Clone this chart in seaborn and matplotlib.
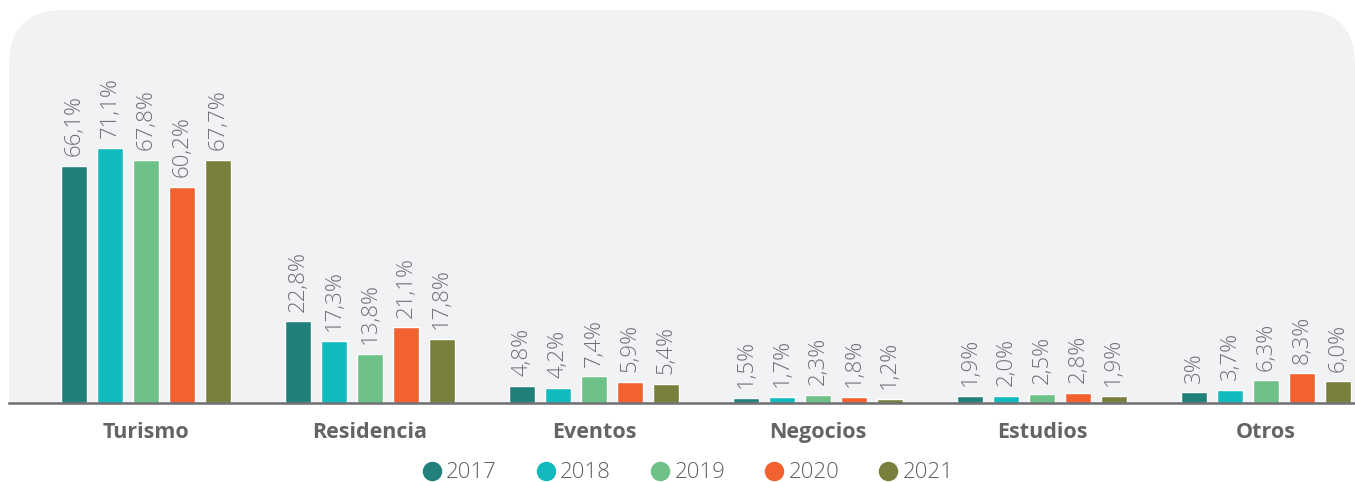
import numpy as np
import pandas as pd
import matplotlib
matplotlib.use("Agg")
import matplotlib.pyplot as plt
import seaborn as sns
from matplotlib.patches import FancyBboxPatch, Rectangle
from matplotlib.lines import Line2D

# datos
categorias = ["Turismo", "Residencia", "Eventos", "Negocios", "Estudios", "Otros"]
anios = ["2017", "2018", "2019", "2020", "2021"]
v2017 = [66.1, 22.8, 4.8, 1.5, 1.9, 3.0]
v2018 = [71.1, 17.3, 4.2, 1.7, 2.0, 3.7]
v2019 = [67.8, 13.8, 7.4, 2.3, 2.5, 6.3]
v2020 = [60.2, 21.1, 5.9, 1.8, 2.8, 8.3]
v2021 = [67.7, 17.8, 5.4, 1.2, 1.9, 6.0]
colores = ["#22807A", "#12BABE", "#6EC288", "#F26130", "#7A7F3E"]
# etiquetas que en el original no llevan decimal
etiquetas_especiales = {("Otros", "2017"): "3%"}

series = [v2017, v2018, v2019, v2020, v2021]
df = pd.DataFrame(
    [(c, a, s[i]) for a, s in zip(anios, series) for i, c in enumerate(categorias)],
    columns=["categoria", "anio", "valor"],
)

sns.set_theme(style="white")
plt.rcParams["font.family"] = ["Open Sans", "DejaVu Sans"]

W, H = 1355, 482
fig = plt.figure(figsize=(W / 100, H / 100), dpi=100)

# panel gris de fondo con esquinas redondeadas (en pulgadas)
px0, py_top, py_axis = 9, 10, 403
panel = FancyBboxPatch(
    (px0 / 100, (H - py_axis - 80) / 100),
    (W - px0) / 100, (py_axis - py_top + 80) / 100,
    boxstyle="round,pad=0,rounding_size=0.55",
    transform=fig.dpi_scale_trans, facecolor="#F1F2F4", edgecolor="none",
    zorder=0,
)
fig.patches.append(panel)
# debajo del eje el fondo es blanco
fig.patches.append(Rectangle((0, 0), 1, (H - py_axis) / H,
                             transform=fig.transFigure, facecolor="white",
                             edgecolor="none", zorder=0.5))

ax = fig.add_axes([px0 / W, (H - py_axis) / H, (W - px0) / W, (py_axis - py_top) / H])
ax.set_zorder(2)
ax.set_facecolor("none")

sns.barplot(data=df, x="categoria", y="valor", hue="anio", order=categorias,
            hue_order=anios, palette=colores, errorbar=None, gap=0.28,
            legend=False, ax=ax, saturation=1)

px_por_pct = 255 / 71.1
ax.set_ylim(0, (py_axis - py_top) / px_por_pct)
g0 = 146
paso = 224
ax.set_xlim(-(g0 - px0) / paso, (W - g0) / paso)

for cont, anio in zip(ax.containers, anios):
    labels = []
    for cat, bar in zip(categorias, cont):
        h = bar.get_height()
        lab = etiquetas_especiales.get((cat, anio), f"{h:.1f}".replace(".", ",") + "%")
        labels.append(lab)
    ax.bar_label(cont, labels=labels, rotation=90, padding=7, fontsize=16,
                 color="#6F7073", fontweight="light")

for s in ["top", "right", "left"]:
    ax.spines[s].set_visible(False)
ax.spines["bottom"].set_color("#6D6E71")
ax.spines["bottom"].set_linewidth(1.8)
ax.set_yticks([])
ax.set_xlabel("")
ax.set_ylabel("")
ax.tick_params(axis="x", length=0, pad=14)
for t in ax.get_xticklabels():
    t.set_fontsize(15.5)
    t.set_fontweight("bold")
    t.set_color("#636466")

handles = [Line2D([0], [0], marker="o", linestyle="none", markersize=13,
                  markerfacecolor=c, markeredgecolor=c) for c in colores]
fig.legend(handles, anios, loc="center", bbox_to_anchor=(687 / W, (H - 473) / H),
           ncol=5, frameon=False, handlelength=1.0, handletextpad=0.15,
           columnspacing=1.7, prop={"size": 16, "weight": "light"},
           labelcolor="#5F6063")

fig.savefig("out.png", dpi=100)
